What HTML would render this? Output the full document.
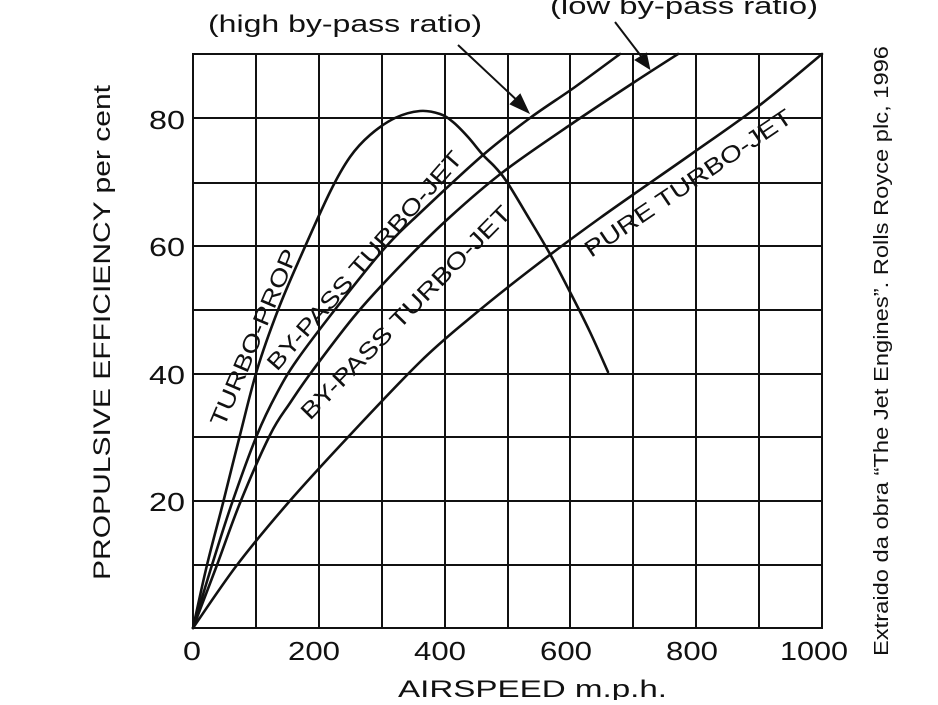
<!DOCTYPE html>
<html><head><meta charset="utf-8"><style>
body{margin:0;background:#fff;}
svg text{font-family:"Liberation Sans",sans-serif;fill:#111;}
</style></head><body>
<svg width="938" height="700" viewBox="0 0 938 700">
<g stroke="#111" stroke-width="2" fill="none">
<rect x="193" y="54" width="629" height="574"/>
<path d="M256 54V628M319 54V628M382 54V628M445 54V628M508 54V628M570 54V628M633 54V628M696 54V628M759 54V628"/>
<path d="M193 565H822M193 501H822M193 437H822M193 374H822M193 310H822M193 246H822M193 183H822M193 118H822"/>
</g>
<g stroke="#111" stroke-width="2.6" fill="none" stroke-linejoin="round" stroke-linecap="round">
<path class="c" data-p="193,628 207,565 223,503 240,435 257,370 278,310 300,258 330,192 350,157 370,135 395,118 420,111 440,114 453,122 468,137 483,155 495,167 507,182 530,220 550,254 570,292 590,332 608,372"/>
<path class="c" data-p="193,628 212,565 232,503 257,435 277,393 297,360 337,307 383,250 420,213 483,155 530,118 575,87 620,54"/>
<path class="c" data-p="193,628 217,565 240,503 270,435 290,403 313,370 357,313 403,263 450,217 503,172 570,125 633,83 678,54"/>
<path class="c" data-p="193,628 237,565 288,503 350,435 420,362 470,318 530,270 600,218 690,155 760,105 822,54"/>
</g>
<g stroke="#111" stroke-width="2" fill="#111">
<line x1="458" y1="45" x2="522" y2="105"/><path d="M528 112 L511 104 L520 95 Z"/>
<line x1="615" y1="22" x2="644" y2="60"/><path d="M649 68 L636 60 L646 54 Z"/>
</g>
<text x="208" y="32" font-size="24" textLength="274" lengthAdjust="spacingAndGlyphs">(high by-pass ratio)</text>
<text x="550" y="14" font-size="24" textLength="268" lengthAdjust="spacingAndGlyphs">(low by-pass ratio)</text>
<g font-size="26">
<text x="149" y="129" textLength="36" lengthAdjust="spacingAndGlyphs">80</text>
<text x="149" y="256" textLength="36" lengthAdjust="spacingAndGlyphs">60</text>
<text x="149" y="384" textLength="36" lengthAdjust="spacingAndGlyphs">40</text>
<text x="149" y="511" textLength="36" lengthAdjust="spacingAndGlyphs">20</text>
<text x="183" y="660" textLength="18" lengthAdjust="spacingAndGlyphs">0</text>
<text x="288" y="660" textLength="52" lengthAdjust="spacingAndGlyphs">200</text>
<text x="414" y="660" textLength="52" lengthAdjust="spacingAndGlyphs">400</text>
<text x="540" y="660" textLength="52" lengthAdjust="spacingAndGlyphs">600</text>
<text x="666" y="660" textLength="52" lengthAdjust="spacingAndGlyphs">800</text>
<text x="780" y="660" textLength="68" lengthAdjust="spacingAndGlyphs">1000</text>
</g>
<text x="398" y="697" font-size="24" textLength="269" lengthAdjust="spacingAndGlyphs">AIRSPEED m.p.h.</text>
<text transform="translate(110 580) rotate(-90)" font-size="24" textLength="495" lengthAdjust="spacingAndGlyphs">PROPULSIVE EFFICIENCY  per cent</text>
<text transform="translate(224 428) rotate(-67)" font-size="23" textLength="190" lengthAdjust="spacingAndGlyphs">TURBO-PROP</text>
<text transform="translate(277 372) rotate(-48.7)" font-size="23" textLength="283" lengthAdjust="spacingAndGlyphs">BY-PASS TURBO-JET</text>
<text transform="translate(310 421) rotate(-45.5)" font-size="23" textLength="289" lengthAdjust="spacingAndGlyphs">BY-PASS TURBO-JET</text>
<text transform="translate(591 258) rotate(-34)" font-size="23" textLength="245" lengthAdjust="spacingAndGlyphs">PURE TURBO-JET</text>
<text transform="translate(888 656) rotate(-90)" font-size="20" textLength="610" lengthAdjust="spacingAndGlyphs">Extraido da obra  “The Jet Engines”. Rolls Royce plc, 1996</text>
</svg>
<script>
document.querySelectorAll('path.c').forEach(function(el){
  var p=el.getAttribute('data-p').trim().split(/\s+/).map(function(s){return s.split(',').map(Number);});
  var d='M'+p[0][0]+' '+p[0][1];
  for(var i=0;i<p.length-1;i++){
    var p0=p[i-1]||p[i],p1=p[i],p2=p[i+1],p3=p[i+2]||p2;
    var c1x=p1[0]+(p2[0]-p0[0])/6,c1y=p1[1]+(p2[1]-p0[1])/6;
    var c2x=p2[0]-(p3[0]-p1[0])/6,c2y=p2[1]-(p3[1]-p1[1])/6;
    d+=' C'+c1x.toFixed(1)+' '+c1y.toFixed(1)+','+c2x.toFixed(1)+' '+c2y.toFixed(1)+','+p2[0]+' '+p2[1];
  }
  el.setAttribute('d',d);
});
</script>
</body></html>
